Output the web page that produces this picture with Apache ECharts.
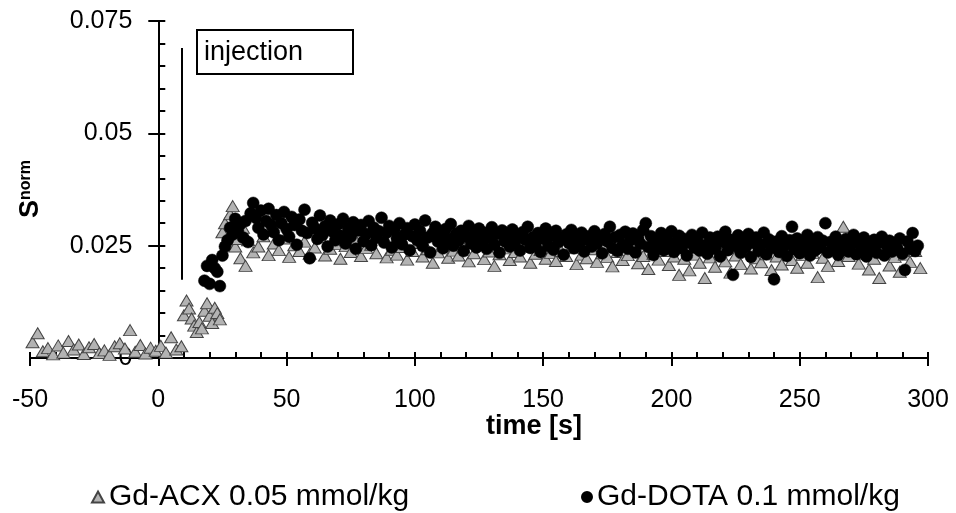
<!DOCTYPE html>
<html>
<head>
<meta charset="utf-8">
<script src="https://cdn.jsdelivr.net/npm/echarts@6/dist/echarts.min.js"></script>
<style>html,body{margin:0;padding:0;background:#fff}#chart{width:956px;height:513px}</style>
</head>
<body>
<div id="chart"></div>
<script>
// ---- data ----
const xTicks = [-50, 0, 50, 100, 150, 200, 250, 300];
const yTicks = [0, 0.025, 0.05, 0.075];
const seriesNames = ['Gd-ACX 0.05 mmol/kg', 'Gd-DOTA 0.1 mmol/kg'];

const acxTime = [
-49,-47,-45,-43,-41,-39,-37,-35,-33,-31,-29,-27,-25,-23,-21,-19,-17,-15,-13,-11,-9,-7,-5,-3,-1,1,3,5,7,9,
10,11,12,13,14,15,16,17,18,19,20,21,22,23,24,25,26,27,28,29,30,31,32,33,34,
35,37,39,41,43,45,47,49,51,53,
55,57,59,61,63,65,67,69,71,73,
75,77,79,81,83,85,87,89,91,93,
95,97,99,101,103,105,107,109,111,113,
115,117,119,121,123,125,127,129,131,133,
135,137,139,141,143,145,147,149,151,153,
155,157,159,161,163,165,167,169,171,173,
175,177,179,181,183,185,187,189,191,193,
195,197,199,201,203,205,207,209,211,213,
215,217,219,221,223,225,227,229,231,233,
235,237,239,241,243,245,247,249,251,253,
255,257,259,261,263,265,267,269,271,273,
275,277,279,281,283,285,287,289,291,293,
295,297];
const acxValue = [
0.0035,0.0055,0.0015,0.0022,0.0008,0.0028,0.0012,0.0038,0.0019,0.0030,0.0009,0.0024,0.0031,0.0011,0.0017,0.0007,0.0026,0.0033,0.0021,0.0062,0.0014,0.0029,0.0010,0.0023,0.0016,0.0027,0.0012,0.0046,0.0019,0.0026,
0.0095,0.0128,0.0110,0.0088,0.0072,0.0058,0.0080,0.0066,0.0105,0.0122,0.0094,0.0078,0.0112,0.0100,0.0086,0.0280,0.0300,0.0255,0.0320,0.0338,0.0248,0.0265,0.0222,0.0290,0.0205,
0.0262,0.0235,0.0248,0.0271,0.0229,0.0255,0.0240,0.0266,0.0225,0.0251,
0.0238,0.0259,0.0232,0.0246,0.0270,0.0228,0.0243,0.0254,0.0221,0.0249,
0.0236,0.0262,0.0227,0.0245,0.0252,0.0233,0.0268,0.0224,0.0241,0.0230,
0.0247,0.0219,0.0238,0.0256,0.0226,0.0242,0.0212,0.0235,0.0250,0.0223,
0.0239,0.0228,0.0246,0.0215,0.0233,0.0252,0.0220,0.0237,0.0205,0.0231,
0.0244,0.0218,0.0236,0.0226,0.0249,0.0212,0.0232,0.0240,0.0221,0.0234,
0.0216,0.0238,0.0227,0.0245,0.0209,0.0230,0.0222,0.0242,0.0214,0.0233,
0.0225,0.0204,0.0236,0.0218,0.0229,0.0246,0.0211,0.0227,0.0198,0.0232,
0.0219,0.0238,0.0207,0.0226,0.0185,0.0221,0.0195,0.0230,0.0212,0.0178,
0.0224,0.0203,0.0236,0.0215,0.0190,0.0228,0.0209,0.0240,0.0199,0.0222,
0.0213,0.0231,0.0196,0.0226,0.0208,0.0244,0.0218,0.0201,0.0229,0.0212,
0.0234,0.0180,0.0223,0.0205,0.0248,0.0216,0.0292,0.0227,0.0268,0.0210,
0.0232,0.0197,0.0221,0.0178,0.0238,0.0206,0.0225,0.0192,0.0230,0.0214,
0.0238,0.0200];

const dotaTime = [
18,19,20,21,22,23,24,25,26,27,
28,29,30,31,32,33,34,35,36,37,
38,39,40,41,42,43,44,45,46,47,
48,49,50,51,52,53,54,55,56,57,
58,59,60,61,62,63,64,65,66,67,
68,69,70,71,72,73,74,75,76,77,
78,79,80,81,82,83,84,85,86,87,
88,89,90,91,92,93,94,95,96,97,
98,99,100,101,102,103,104,105,106,107,
108,109,110,111,112,113,114,115,116,117,
118,119,120,121,122,123,124,125,126,127,
128,129,130,131,132,133,134,135,136,137,
138,139,140,141,142,143,144,145,146,147,
148,149,150,151,152,153,154,155,156,157,
158,159,160,161,162,163,164,165,166,167,
168,169,170,171,172,173,174,175,176,177,
178,179,180,181,182,183,184,185,186,187,
188,189,190,191,192,193,194,195,196,197,
198,199,200,201,202,203,204,205,206,207,
208,209,210,211,212,213,214,215,216,217,
218,219,220,221,222,223,224,225,226,227,
228,229,230,231,232,233,234,235,236,237,
238,239,240,241,242,243,244,245,246,247,
248,249,250,251,252,253,254,255,256,257,
258,259,260,261,262,263,264,265,266,267,
268,269,270,271,272,273,274,275,276,277,
278,279,280,281,282,283,284,285,286,287,
288,289,290,291,292,293,294,295,296];
const dotaValue = [
0.0172,0.0205,0.0165,0.0218,0.0200,0.0192,0.0160,0.0228,0.0248,0.0262,
0.0290,0.0275,0.0310,0.0284,0.0298,0.0268,0.0305,0.0258,0.0322,0.0345,
0.0312,0.0290,0.0328,0.0275,0.0305,0.0332,0.0296,0.0280,0.0318,0.0262,
0.0300,0.0325,0.0287,0.0270,0.0314,0.0296,0.0252,0.0308,0.0283,0.0330,
0.0278,0.0222,0.0301,0.0289,0.0265,0.0317,0.0274,0.0293,0.0248,0.0306,
0.0281,0.0262,0.0297,0.0272,0.0310,0.0255,0.0288,0.0270,0.0302,0.0243,
0.0284,0.0296,0.0260,0.0276,0.0305,0.0251,0.0290,0.0268,0.0282,0.0312,
0.0257,0.0279,0.0294,0.0246,0.0286,0.0266,0.0300,0.0253,0.0275,0.0289,
0.0240,0.0271,0.0297,0.0262,0.0283,0.0249,0.0306,0.0268,0.0235,0.0278,
0.0292,0.0259,0.0274,0.0244,0.0287,0.0265,0.0298,0.0250,0.0276,0.0261,
0.0283,0.0238,0.0270,0.0294,0.0255,0.0273,0.0246,0.0288,0.0262,0.0279,
0.0243,0.0268,0.0291,0.0252,0.0276,0.0234,0.0284,0.0260,0.0271,0.0248,
0.0286,0.0257,0.0273,0.0239,0.0280,0.0263,0.0292,0.0245,0.0269,0.0254,
0.0278,0.0236,0.0266,0.0288,0.0250,0.0272,0.0241,0.0283,0.0258,0.0267,
0.0230,0.0275,0.0256,0.0285,0.0244,0.0268,0.0252,0.0279,0.0237,0.0263,
0.0271,0.0248,0.0282,0.0255,0.0266,0.0233,0.0276,0.0259,0.0292,0.0245,
0.0269,0.0238,0.0274,0.0252,0.0281,0.0243,0.0262,0.0277,0.0235,0.0267,
0.0254,0.0285,0.0300,0.0247,0.0271,0.0229,0.0263,0.0250,0.0278,0.0240,
0.0268,0.0255,0.0282,0.0236,0.0260,0.0272,0.0244,0.0265,0.0228,0.0257,
0.0274,0.0246,0.0262,0.0239,0.0279,0.0251,0.0232,0.0268,0.0255,0.0243,
0.0270,0.0226,0.0258,0.0281,0.0240,0.0263,0.0185,0.0249,0.0273,0.0234,
0.0261,0.0247,0.0276,0.0225,0.0256,0.0268,0.0238,0.0252,0.0279,0.0231,
0.0264,0.0245,0.0175,0.0259,0.0236,0.0271,0.0250,0.0227,0.0262,0.0292,
0.0242,0.0266,0.0233,0.0257,0.0248,0.0274,0.0228,0.0253,0.0239,0.0269,
0.0246,0.0261,0.0300,0.0235,0.0258,0.0244,0.0270,0.0229,0.0255,0.0241,
0.0265,0.0237,0.0252,0.0274,0.0231,0.0259,0.0246,0.0268,0.0226,0.0251,
0.0240,0.0263,0.0234,0.0257,0.0270,0.0228,0.0249,0.0261,0.0237,0.0254,
0.0245,0.0266,0.0232,0.0196,0.0259,0.0243,0.0278,0.0238,0.0250];

// injection marker (time in s, and the vertical extent in S^norm units)
const injectionTime = 9;
const injectionRange = [0.0174, 0.069];
const injectionLabel = 'injection';

// ---- chart ----
const FONT = '"Liberation Sans", Arial, Helvetica, sans-serif';
const pair = (t, v) => t.map((x, i) => [x, v[i]]);

const W = 956;
const GRID = {left: 30, right: 28, top: 21, bottom: 155};
const xMin = xTicks[0], xMax = xTicks[xTicks.length - 1];
// the y axis crosses the x axis at time 0: shift it from the grid's left edge to there
const yAxisShift = -((0 - xMin) / (xMax - xMin)) * (W - GRID.left - GRID.right);

const chart = echarts.init(document.getElementById('chart'), null, {renderer: 'canvas'});
const axisLineStyle = {color: '#000', width: 2};

const option = {
  animation: false,
  backgroundColor: '#ffffff',
  grid: Object.assign({containLabel: false, outerBoundsMode: 'none'}, GRID),
  xAxis: [
    {type: 'value', min: xMin, max: xMax, interval: xTicks[1] - xTicks[0],
     axisLine: {onZero: false, lineStyle: axisLineStyle},
     axisTick: {show: true, inside: false, length: 8, lineStyle: axisLineStyle},
     axisLabel: {color: '#000', fontSize: 25, fontFamily: FONT, margin: 30},
     splitLine: {show: false}},
    {type: 'value', position: 'bottom', min: xMin, max: xMax, interval: 10,
     axisLine: {onZero: false, lineStyle: axisLineStyle},
     axisTick: {show: true, inside: true, length: 6, lineStyle: axisLineStyle},
     axisLabel: {show: false}, splitLine: {show: false}}
  ],
  yAxis: [
    {type: 'value', position: 'left', offset: yAxisShift,
     min: yTicks[0], max: yTicks[yTicks.length - 1], interval: yTicks[1] - yTicks[0],
     axisLine: {onZero: false, lineStyle: axisLineStyle},
     axisTick: {show: true, inside: false, length: 10, lineStyle: axisLineStyle},
     axisLabel: {color: '#000', fontSize: 25, fontFamily: FONT, margin: 26,
                 formatter: v => String(+v.toFixed(3))},
     splitLine: {show: false}},
    {type: 'value', position: 'left', offset: yAxisShift,
     min: yTicks[0], max: yTicks[yTicks.length - 1], interval: 0.005,
     axisLine: {onZero: false, lineStyle: axisLineStyle},
     axisTick: {show: true, inside: true, length: 7, lineStyle: axisLineStyle},
     axisLabel: {show: false}, splitLine: {show: false}}
  ],
  legend: [
    {data: [seriesNames[0]], left: 86, top: 477, itemWidth: 12, itemHeight: 11, itemGap: 0,
     textStyle: {color: '#000', fontSize: 30, fontFamily: FONT, lineHeight: 30}},
    {data: [seriesNames[1]], left: 576, top: 477, itemWidth: 10, itemHeight: 10, itemGap: 0,
     textStyle: {color: '#000', fontSize: 30, fontFamily: FONT, lineHeight: 30}}
  ],
  series: [
    {name: seriesNames[0], type: 'scatter', xAxisIndex: 0, yAxisIndex: 0, z: 2,
     symbol: 'triangle', symbolSize: [13, 11],
     itemStyle: {color: '#b3b3b3', borderColor: '#444', borderWidth: 1, opacity: 1},
     data: pair(acxTime, acxValue),
     markLine: {silent: true, symbol: 'none', animation: false,
       lineStyle: {color: '#000', width: 2, type: 'solid'}, label: {show: false},
       data: [[{coord: [injectionTime, injectionRange[0]]}, {coord: [injectionTime, injectionRange[1]]}]]}},
    {name: seriesNames[1], type: 'scatter', xAxisIndex: 0, yAxisIndex: 0, z: 3,
     symbol: 'circle', symbolSize: 12,
     itemStyle: {color: '#000', borderColor: '#000', borderWidth: 0.5, opacity: 1},
     data: pair(dotaTime, dotaValue)}
  ],
  graphic: [
    {type: 'rect', z: 100, shape: {x: 197, y: 30, width: 156, height: 44},
     style: {fill: '#fff', stroke: '#000', lineWidth: 2}},
    {type: 'text', z: 101, x: 204, y: 53,
     style: {text: injectionLabel, fontSize: 27, fontFamily: FONT, fill: '#000', verticalAlign: 'middle', align: 'left'}},
    {type: 'text', z: 101, x: 534, y: 427,
     style: {text: 'time [s]', fontSize: 27, fontWeight: 'bold', fontFamily: FONT, fill: '#000', align: 'center', verticalAlign: 'middle'}},
    {type: 'text', z: 101, x: 31, y: 189, rotation: Math.PI / 2,
     style: {text: '{s|S}{n|norm}', align: 'center', verticalAlign: 'middle', fill: '#000',
       rich: {s: {fontSize: 27, fontWeight: 'bold', fontFamily: FONT, fill: '#000', verticalAlign: 'bottom'},
              n: {fontSize: 16, fontWeight: 'bold', fontFamily: FONT, fill: '#000', verticalAlign: 'top'}}}}
  ]
};
chart.setOption(option);
</script>
</body>
</html>
